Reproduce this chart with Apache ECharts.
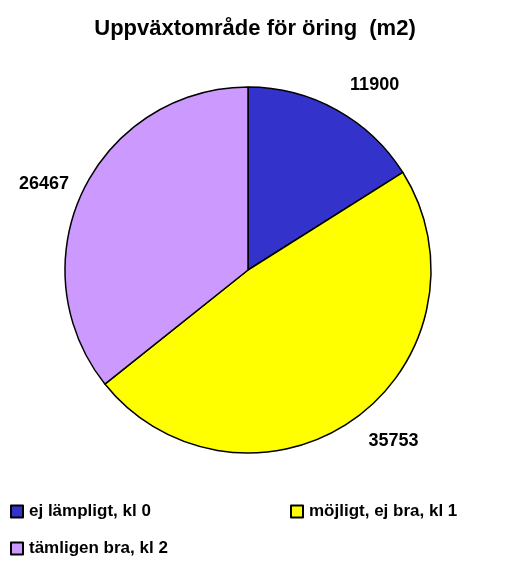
<!DOCTYPE html>
<html>
<head>
<meta charset="utf-8">
<script src="https://cdn.jsdelivr.net/npm/echarts@6/dist/echarts.min.js"></script>
<style>
  html, body { margin: 0; padding: 0; background: #fff; }
  #chart { width: 510px; height: 561px; }
</style>
</head>
<body>
<div id="chart"></div>
<script>
// Uppväxtområde för öring, pie
const categories = ['ej lämpligt, kl 0', 'möjligt, ej bra, kl 1', 'tämligen bra, kl 2'];
const values = [11900, 35753, 26467];
const colors = ['#3333cc', '#ffff00', '#cc99ff'];

const chart = echarts.init(document.getElementById('chart'));

const fontFamily = 'Liberation Sans, Arial, sans-serif';

const legendItem = (name, left, top) => ({
    data: [name],
    left: left,
    top: top,
    itemWidth: 12,
    itemHeight: 12,
    itemGap: 0,
    icon: 'rect',
    textStyle: {
        fontFamily: fontFamily,
        fontWeight: 'bold',
        fontSize: 17,
        color: '#000',
        padding: [0, 0, 0, 1]
    }
});

// small nudges so the labels sit where the original placed them
const labelShift = [[-1, -7], [-2, 6], [9, 2]];

const option = {
    animation: false,
    backgroundColor: '#fff',
    title: {
        text: 'Uppväxtområde för öring  (m2)',
        left: 'center',
        top: 13,
        textStyle: {
            fontFamily: fontFamily,
            fontWeight: 'bold',
            fontSize: 22,
            color: '#000'
        }
    },
    legend: [
        legendItem(categories[0], 5, 498),
        legendItem(categories[1], 285, 498),
        legendItem(categories[2], 5, 535)
    ],
    series: [{
        type: 'pie',
        center: [248, 270],
        radius: 183,
        startAngle: 90,
        clockwise: true,
        itemStyle: {
            borderColor: '#000',
            borderWidth: 1.5
        },
        label: {
            show: true,
            position: 'outside',
            formatter: '{c}',
            fontFamily: fontFamily,
            fontWeight: 'bold',
            fontSize: 18,
            color: '#000'
        },
        labelLine: {
            show: false,
            length: 20,
            length2: 0
        },
        labelLayout: function (params) {
            const s = labelShift[params.dataIndex];
            return { dx: s[0], dy: s[1] };
        },
        emphasis: { disabled: true },
        data: categories.map((name, i) => ({
            name: name,
            value: values[i],
            itemStyle: { color: colors[i] }
        }))
    }]
};

chart.setOption(option);
</script>
</body>
</html>
